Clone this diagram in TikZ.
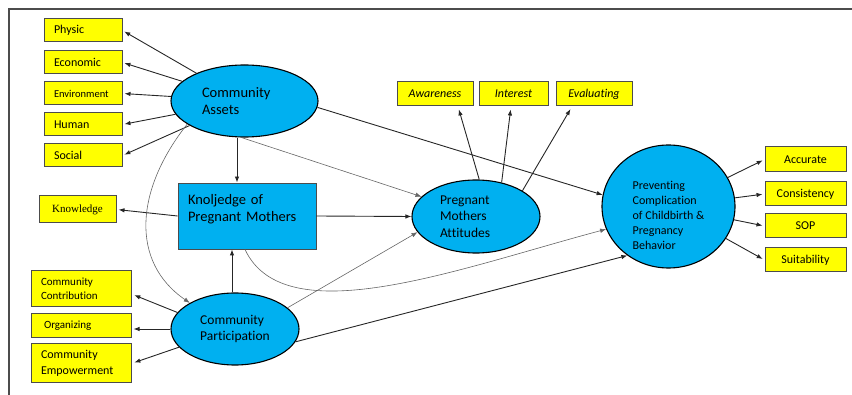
\documentclass[tikz,border=0pt]{standalone}
\usepackage{fontspec}
\setmainfont{Carlito}[Ligatures=CommonOff]
\newfontfamily\timesfont{Liberation Serif}
\usetikzlibrary{shapes.geometric,arrows.meta}
\newlength{\du}
\setlength{\du}{1pt}
\definecolor{diaframecolor}{rgb}{0.300000, 0.300000, 0.300000}
\definecolor{diaboxlinecolor}{rgb}{0.300000, 0.300000, 0.300000}
\definecolor{diayellowcolor}{rgb}{1.000000, 1.000000, 0.000000}
\definecolor{diabluecolor}{rgb}{0.000000, 0.690000, 0.940000}
\definecolor{dialinecolor}{rgb}{0.150000, 0.150000, 0.150000}
\definecolor{diathincolor}{rgb}{0.400000, 0.400000, 0.400000}
\tikzset{
  dimbox/.style={draw=diaboxlinecolor, fill=diayellowcolor, line width=1\du,
    minimum height=23\du, inner ysep=0\du, font=\fontsize{12}{14}\selectfont},
  leftbox/.style={dimbox, inner xsep=10\du, text width=58\du, align=left},
  midbox/.style={dimbox, inner xsep=0\du, align=center},
  construct/.style={ellipse, draw=black, fill=diabluecolor, line width=1.1\du, inner sep=0\du},
  arr/.style={-{Latex[length=6pt,width=4.5pt]}, draw=dialinecolor, line width=0.9\du},
  thinarr/.style={-{Latex[length=6pt,width=4.5pt]}, draw=diathincolor, line width=0.6\du}
}
\begin{document}
\begin{tikzpicture}[x=1\du,y=-1\du]
\useasboundingbox (0,0) rectangle (852,395);
\draw[diaframecolor, line width=1.6\du] (9,395) -- (9,9) -- (852,9);

% dimensions of community assets
\node[leftbox] (physic) at (83,30.5) {Physic};
\node[leftbox] (economic) at (83,62.5) {Economic};
\node[leftbox, font=\fontsize{10.5}{12}\selectfont] (environment) at (83,93.5) {Environment};
\node[leftbox] (human) at (83,124.5) {Human};
\node[leftbox] (social) at (83,155.5) {Social};
\node[midbox, minimum width=77\du, minimum height=27\du, font=\timesfont\fontsize{11}{13}\selectfont] (knowledge) at (77.5,209.5) {Knowledge};
\node[leftbox, text width=80\du, minimum height=36\du, font=\fontsize{11}{13.5}\selectfont] (contribution) at (81,289) {Community\\Contribution};
\node[leftbox, inner xsep=13\du, text width=74\du, minimum height=24\du, font=\fontsize{11}{13}\selectfont] (organizing) at (81,326) {Organizing};
\node[leftbox, text width=80\du, minimum height=39\du, font=\fontsize{12}{15.5}\selectfont] (empowerment) at (81,363.5) {Community\\Empowerment};

% constructs
\node[construct, minimum width=147\du, minimum height=72\du, text width=85\du, align=left,
  font=\fontsize{14.5}{17}\selectfont] (assets) at (244.5,101) {Community\\Assets};
\node[draw=diaboxlinecolor, fill=diabluecolor, line width=0.9\du, minimum width=138\du, minimum height=66\du,
  inner xsep=10\du, text width=118\du, align=left, font=\fontsize{14.5}{17}\selectfont]
  (mothers) at (247,216) {Knoljedge of\\Pregnant Mothers\\~};
\node[construct, minimum width=128\du, minimum height=72\du, align=left,
  font=\fontsize{13.5}{16}\selectfont] (participation) at (235,329) {Community\\Participation};
\node[construct, minimum width=128\du, minimum height=73\du, text width=72\du, align=left,
  font=\fontsize{13.5}{16.5}\selectfont] (attitudes) at (476,216.5) {Pregnant\\Mothers\\Attitudes};
\node[construct, minimum width=133\du, minimum height=123\du, font=\fontsize{12}{15}\selectfont]
  (preventing) at (668.5,206.5)
  {\smash{\raisebox{-13.5pt}{\begin{tabular}{@{}l@{}}Preventing\\Complication\\of Childbirth \&\\Pregnancy\\Behavior\end{tabular}}}};

% dimensions of attitudes and behavior
\node[midbox, minimum width=76\du, minimum height=24\du, font=\itshape\fontsize{12}{14}\selectfont] (awareness) at (435,94) {Awareness};
\node[midbox, minimum width=69\du, minimum height=24\du, font=\itshape\fontsize{12}{14}\selectfont] (interest) at (513.5,94) {Interest};
\node[midbox, minimum width=76\du, minimum height=24\du, font=\itshape\fontsize{12}{14}\selectfont] (evaluating) at (594,94) {Evaluating};
\node[midbox, minimum width=81\du, minimum height=25\du] (accurate) at (805.5,159.5) {Accurate};
\node[midbox, minimum width=81\du, minimum height=24\du] (consistency) at (805.5,194) {Consistency};
\node[midbox, minimum width=81\du, minimum height=24\du] (sop) at (805.5,226) {SOP};
\node[midbox, minimum width=81\du, minimum height=24\du] (suitability) at (805.5,260) {Suitability};

% loadings
\draw[arr, shorten >=2pt] (assets) -- (physic.east);
\draw[arr, shorten >=2pt] (assets) -- (economic.east);
\draw[arr, shorten >=2pt] (assets) -- (environment.east);
\draw[arr, shorten >=2pt] (assets) -- (human.east);
\draw[arr, shorten >=2pt] (assets) -- (social.east);
\draw[arr, shorten >=2pt] (mothers.west) -- (knowledge.east);
\draw[arr, shorten >=3pt] (participation.164) -- ([yshift=-5pt]contribution.east);
\draw[arr, shorten >=2pt] (participation.west) -- (participation.west -| organizing.east);
\draw[arr, shorten >=3pt] (participation.-162) -- (empowerment.east);
\draw[arr, shorten >=3pt] (attitudes.85) -- ([xshift=23pt]awareness.south);
\draw[arr, shorten >=3pt] (attitudes.53) -- ([xshift=-2.5pt]interest.south);
\draw[arr, shorten >=3pt] (attitudes.29) -- ([xshift=-22pt]evaluating.south);
\draw[arr, shorten >=2pt] (preventing) -- (accurate.west);
\draw[arr, shorten >=2pt] (preventing) -- (consistency.west);
\draw[arr, shorten >=2pt] (preventing) -- (sop.west);
\draw[arr, shorten >=2pt] (preventing) -- (suitability.west);

% structural paths
\draw[arr] ([xshift=-7.5pt]assets.south) -- ([xshift=-7.5pt]assets.south |- mothers.north);
\draw[arr] ([xshift=-3pt]participation.north) -- ([xshift=-3pt]participation.north |- mothers.south);
\draw[arr] (mothers.east) -- (attitudes.west);
\draw[arr] (assets.-5) -- (preventing.170);
\draw[arr] (participation.-12) -- (preventing.-130);
\draw[thinarr] (assets.-95) -- (attitudes.160);
\draw[thinarr] (participation.22) -- (attitudes.-165);
\draw[thinarr] (assets.-158) .. controls (135,190) and (130,262) .. (participation.150);
\draw[thinarr] ([xshift=-2pt]mothers.south) .. controls (285,335) and (460,268) .. (preventing.-160);
\end{tikzpicture}
\end{document}
